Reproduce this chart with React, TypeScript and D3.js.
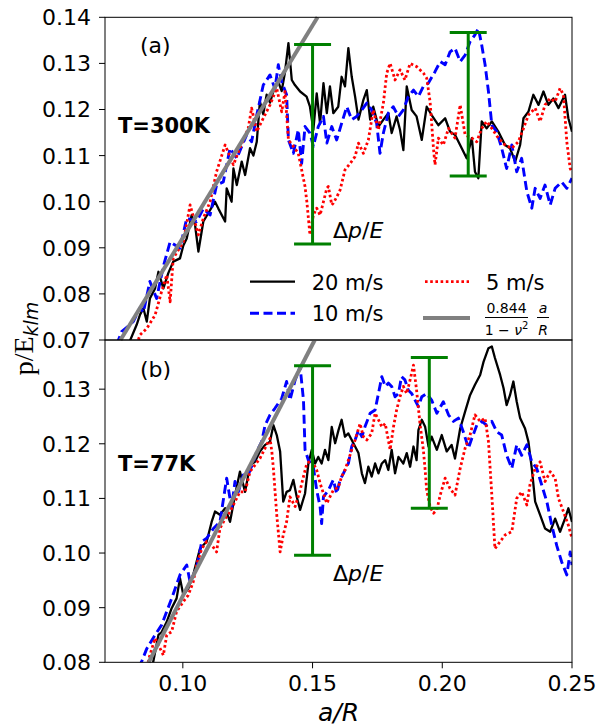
import React from 'react'
import * as d3 from 'd3'

type Pt = [number, number]

// Axis ticks
const xTicks = [0.1, 0.15, 0.2, 0.25]
const yTicks300 = [0.07, 0.08, 0.09, 0.1, 0.11, 0.12, 0.13, 0.14]
const yTicks77 = [0.08, 0.09, 0.1, 0.11, 0.12, 0.13]

// Fit line: 0.844/(1-nu^2) * a/R
const fitCoef = 0.844
const nu = 0.29

// T=300K, [a/R, p/E]
const t300v20: Pt[] = [
  [0.079, 0.069], [0.0822, 0.0733], [0.0835, 0.0755], [0.0848, 0.0769], [0.0861, 0.074], [0.0873, 0.079],
  [0.0893, 0.0812], [0.0906, 0.0848], [0.0925, 0.0812], [0.0944, 0.0845], [0.0963, 0.087], [0.0989, 0.0877],
  [0.1002, 0.0905], [0.1015, 0.092], [0.1034, 0.0971], [0.1047, 0.095], [0.106, 0.0892], [0.1079, 0.0957],
  [0.1098, 0.0975], [0.1124, 0.1], [0.1137, 0.0985], [0.1163, 0.0957], [0.1169, 0.1029], [0.1188, 0.1],
  [0.1195, 0.1072], [0.1208, 0.1036], [0.1227, 0.1087], [0.124, 0.1058], [0.1259, 0.1116], [0.1272, 0.11],
  [0.1285, 0.113], [0.1297, 0.1217], [0.131, 0.119], [0.1323, 0.1232], [0.1336, 0.1215], [0.1349, 0.1239],
  [0.1368, 0.126], [0.1381, 0.124], [0.1394, 0.1282], [0.1407, 0.1344], [0.142, 0.1264], [0.1432, 0.1253],
  [0.1452, 0.1239], [0.1477, 0.1228], [0.149, 0.1206], [0.1503, 0.1156], [0.1516, 0.1235], [0.1529, 0.117],
  [0.1542, 0.1257], [0.1555, 0.1192], [0.1567, 0.125], [0.158, 0.1192], [0.1599, 0.1206], [0.1612, 0.1271],
  [0.1625, 0.125], [0.1638, 0.1333], [0.1651, 0.1271], [0.1664, 0.1228], [0.1677, 0.1178], [0.1696, 0.1221],
  [0.1709, 0.1242], [0.1722, 0.1178], [0.1734, 0.1206], [0.1754, 0.1163], [0.1773, 0.1178], [0.1792, 0.1192],
  [0.1805, 0.1149], [0.1824, 0.1185], [0.1837, 0.1156], [0.185, 0.1112], [0.1863, 0.125], [0.1882, 0.1199],
  [0.1901, 0.1185], [0.1921, 0.1134], [0.194, 0.1206], [0.1959, 0.1188], [0.1985, 0.1166], [0.2011, 0.1181],
  [0.203, 0.1152], [0.2049, 0.1145], [0.2075, 0.1116], [0.2094, 0.1094], [0.2114, 0.1138], [0.2126, 0.1065],
  [0.2139, 0.1051], [0.2152, 0.1174], [0.2171, 0.1159], [0.2191, 0.1174], [0.2216, 0.1152], [0.2242, 0.1123],
  [0.2261, 0.1116], [0.2281, 0.1087], [0.23, 0.1123], [0.2313, 0.1181], [0.2332, 0.1195], [0.2351, 0.1232],
  [0.2371, 0.121], [0.239, 0.1239], [0.2409, 0.121], [0.2428, 0.1224], [0.2448, 0.1203], [0.2473, 0.1232],
  [0.2486, 0.1181], [0.25, 0.1152],
]
const t300v10: Pt[] = [
  [0.0745, 0.069], [0.0764, 0.0718], [0.079, 0.073], [0.0809, 0.074], [0.0835, 0.077], [0.0848, 0.076],
  [0.0873, 0.0827], [0.0899, 0.079], [0.0925, 0.086], [0.0951, 0.0913], [0.0989, 0.0899], [0.1015, 0.0964],
  [0.1053, 0.0957], [0.1079, 0.0985], [0.1105, 0.0971], [0.113, 0.1036], [0.1156, 0.1043], [0.1182, 0.1116],
  [0.1208, 0.1094], [0.1227, 0.112], [0.1246, 0.1145], [0.1265, 0.113], [0.1285, 0.1188], [0.131, 0.1253],
  [0.1336, 0.1275], [0.1355, 0.1245], [0.1368, 0.1297], [0.1381, 0.126], [0.14, 0.1232], [0.1407, 0.1134],
  [0.1426, 0.1105], [0.1445, 0.1156], [0.1458, 0.1083], [0.1471, 0.1163], [0.149, 0.1149], [0.1503, 0.112],
  [0.1522, 0.1163], [0.1542, 0.1185], [0.1555, 0.1127], [0.1574, 0.1163], [0.1593, 0.1134], [0.1612, 0.117],
  [0.1632, 0.1206], [0.1651, 0.1178], [0.167, 0.1185], [0.169, 0.1199], [0.1709, 0.1214], [0.1728, 0.1199],
  [0.1747, 0.117], [0.176, 0.1105], [0.1773, 0.1149], [0.1792, 0.1192], [0.1811, 0.1206], [0.1831, 0.1185],
  [0.185, 0.1199], [0.1869, 0.1228], [0.1889, 0.1242], [0.1908, 0.1228], [0.1927, 0.125], [0.1946, 0.1257],
  [0.1972, 0.1282], [0.1992, 0.1304], [0.2011, 0.1297], [0.203, 0.1325], [0.2049, 0.1333], [0.2069, 0.1304],
  [0.2088, 0.1318], [0.2107, 0.1347], [0.2126, 0.1362], [0.2139, 0.1376], [0.2152, 0.134], [0.2165, 0.1297],
  [0.2178, 0.1239], [0.2191, 0.1166], [0.221, 0.1152], [0.2229, 0.1116], [0.2248, 0.1072], [0.2268, 0.1123],
  [0.2287, 0.1065], [0.2306, 0.1094], [0.2326, 0.1022], [0.2345, 0.0986], [0.2358, 0.1029], [0.2377, 0.1007],
  [0.2396, 0.1036], [0.2416, 0.0993], [0.2435, 0.1029], [0.246, 0.1043], [0.248, 0.1029], [0.25, 0.1051],
]
const t300v5: Pt[] = [
  [0.0822, 0.069], [0.0835, 0.0711], [0.0861, 0.0725], [0.0893, 0.0754], [0.0918, 0.0805], [0.0938, 0.0841],
  [0.0951, 0.0783], [0.0963, 0.0877], [0.1002, 0.0913], [0.1028, 0.0993], [0.106, 0.0928], [0.1079, 0.0964],
  [0.1105, 0.1], [0.113, 0.1065], [0.1163, 0.1123], [0.1195, 0.108], [0.122, 0.1116], [0.1252, 0.1159],
  [0.1265, 0.1203], [0.1285, 0.1152], [0.131, 0.1181], [0.1336, 0.121], [0.1362, 0.1246], [0.1381, 0.1195],
  [0.1394, 0.1239], [0.1407, 0.1134], [0.1426, 0.112], [0.1445, 0.1105], [0.1458, 0.1069], [0.1471, 0.1033],
  [0.1478, 0.1], [0.149, 0.0928], [0.1503, 0.0971], [0.1516, 0.0986], [0.1529, 0.0971], [0.1542, 0.1],
  [0.1555, 0.1029], [0.1561, 0.1033], [0.1574, 0.0993], [0.158, 0.0997], [0.1593, 0.101], [0.1606, 0.1025],
  [0.1625, 0.1069], [0.1645, 0.1083], [0.1664, 0.1098], [0.1677, 0.1127], [0.1696, 0.1105], [0.1715, 0.1134],
  [0.1734, 0.1199], [0.1754, 0.1156], [0.1773, 0.1214], [0.1786, 0.1279], [0.1799, 0.13], [0.1818, 0.1264],
  [0.1837, 0.1286], [0.1856, 0.1264], [0.1876, 0.13], [0.1901, 0.1293], [0.1927, 0.1279], [0.194, 0.1268],
  [0.1953, 0.1217], [0.1966, 0.1116], [0.1972, 0.108], [0.1985, 0.1138], [0.2004, 0.1123], [0.2024, 0.1159],
  [0.2049, 0.1138], [0.2069, 0.121], [0.2088, 0.1145], [0.2114, 0.1138], [0.2133, 0.113], [0.2152, 0.1159],
  [0.2171, 0.1174], [0.2191, 0.1159], [0.2216, 0.1138], [0.2242, 0.1123], [0.2268, 0.1116], [0.2293, 0.113],
  [0.2313, 0.1159], [0.2332, 0.1188], [0.2358, 0.1203], [0.2377, 0.1174], [0.2396, 0.121], [0.2416, 0.1224],
  [0.2435, 0.1217], [0.2454, 0.1246], [0.2467, 0.1232], [0.248, 0.113], [0.2493, 0.1072], [0.25, 0.1065],
]

// T=77K, [a/R, p/E]
const t77v20: Pt[] = [
  [0.0873, 0.079], [0.0886, 0.0801], [0.0906, 0.085], [0.0918, 0.0855], [0.0938, 0.0874], [0.0957, 0.0899],
  [0.0976, 0.0917], [0.0989, 0.0954], [0.1002, 0.0923], [0.1021, 0.0935], [0.104, 0.096], [0.1066, 0.1008],
  [0.1092, 0.1021], [0.1111, 0.1057], [0.1124, 0.1076], [0.1143, 0.107], [0.1163, 0.1082], [0.1182, 0.1057],
  [0.1201, 0.1106], [0.122, 0.1149], [0.124, 0.1112], [0.1259, 0.1161], [0.1278, 0.1167], [0.1297, 0.1186],
  [0.1317, 0.1198], [0.1336, 0.1204], [0.1349, 0.1234], [0.1362, 0.1216], [0.1375, 0.1186], [0.1387, 0.1094],
  [0.14, 0.1112], [0.1413, 0.1115], [0.1426, 0.1134], [0.1439, 0.1103], [0.1452, 0.1079], [0.1471, 0.1109],
  [0.1484, 0.1164], [0.1497, 0.1189], [0.151, 0.1164], [0.1522, 0.1176], [0.1535, 0.1164], [0.1548, 0.1189],
  [0.1561, 0.117], [0.1574, 0.1231], [0.1587, 0.1201], [0.16, 0.1225], [0.1612, 0.1244], [0.1625, 0.1213],
  [0.1638, 0.1219], [0.1651, 0.1207], [0.1664, 0.1195], [0.1677, 0.1183], [0.169, 0.1146], [0.1702, 0.1128],
  [0.1715, 0.1158], [0.1728, 0.114], [0.1741, 0.1164], [0.1754, 0.1146], [0.1767, 0.1164], [0.178, 0.117],
  [0.1792, 0.1152], [0.1805, 0.1189], [0.1818, 0.1146], [0.1831, 0.1176], [0.185, 0.1164], [0.1863, 0.1183],
  [0.1876, 0.1158], [0.1889, 0.1195], [0.1901, 0.117], [0.1908, 0.1225], [0.1921, 0.1244], [0.1934, 0.1231],
  [0.1947, 0.1195], [0.1959, 0.1213], [0.1979, 0.1189], [0.1998, 0.1216], [0.2017, 0.1186], [0.2036, 0.1198],
  [0.2049, 0.1173], [0.2069, 0.1228], [0.2088, 0.1259], [0.2107, 0.1289], [0.2126, 0.1308], [0.2146, 0.1326],
  [0.2159, 0.135], [0.2178, 0.1375], [0.2191, 0.1378], [0.2203, 0.1357], [0.2223, 0.1326], [0.2236, 0.1302],
  [0.2248, 0.1271], [0.2261, 0.1289], [0.2274, 0.1314], [0.2287, 0.1277], [0.23, 0.1247], [0.2319, 0.1228],
  [0.2332, 0.1204], [0.2345, 0.1155], [0.2358, 0.1094], [0.2377, 0.107], [0.2396, 0.1045], [0.2416, 0.1039],
  [0.2435, 0.1063], [0.2454, 0.1039], [0.2473, 0.1063], [0.2486, 0.1082], [0.25, 0.1057],
]
const t77v10: Pt[] = [
  [0.0828, 0.079], [0.0841, 0.0801], [0.0861, 0.0825], [0.0893, 0.085], [0.0918, 0.0868], [0.0938, 0.0893],
  [0.0957, 0.0917], [0.0989, 0.096], [0.1015, 0.0978], [0.1028, 0.0947], [0.1053, 0.0972], [0.1073, 0.1021],
  [0.1092, 0.1027], [0.1118, 0.1045], [0.1143, 0.1057], [0.1169, 0.1137], [0.1188, 0.1082], [0.1201, 0.1131],
  [0.1214, 0.1112], [0.1233, 0.1143], [0.1252, 0.1143], [0.1272, 0.1167], [0.1285, 0.1186], [0.1304, 0.1204],
  [0.1317, 0.1234], [0.1336, 0.1253], [0.1355, 0.1265], [0.1381, 0.1283], [0.14, 0.1314], [0.1413, 0.128],
  [0.1433, 0.1317], [0.1452, 0.1341], [0.1465, 0.128], [0.1471, 0.1189], [0.1484, 0.117], [0.1503, 0.1158],
  [0.1516, 0.1115], [0.1529, 0.1085], [0.1535, 0.1054], [0.1542, 0.1103], [0.1561, 0.1115], [0.158, 0.1134],
  [0.1593, 0.1109], [0.1606, 0.1134], [0.1619, 0.1146], [0.1638, 0.1164], [0.1651, 0.1195], [0.1664, 0.1207],
  [0.1677, 0.1225], [0.169, 0.1213], [0.1702, 0.1231], [0.1722, 0.1256], [0.1741, 0.1262], [0.1754, 0.1292],
  [0.1767, 0.1323], [0.178, 0.1305], [0.1792, 0.1311], [0.1805, 0.1305], [0.1818, 0.1286], [0.1831, 0.1292],
  [0.1843, 0.1323], [0.1856, 0.1317], [0.1869, 0.1298], [0.1882, 0.1292], [0.1895, 0.128], [0.1908, 0.1268],
  [0.1921, 0.1286], [0.194, 0.1292], [0.1959, 0.128], [0.1979, 0.1256], [0.2004, 0.1277], [0.2024, 0.1253],
  [0.2043, 0.1241], [0.2062, 0.1247], [0.2081, 0.1222], [0.2101, 0.1192], [0.2114, 0.121], [0.2133, 0.1234],
  [0.2152, 0.1241], [0.2171, 0.1234], [0.2191, 0.1241], [0.221, 0.1222], [0.2229, 0.1216], [0.2248, 0.1179],
  [0.2268, 0.1155], [0.2287, 0.1198], [0.2306, 0.1179], [0.2326, 0.1198], [0.2345, 0.1167], [0.2364, 0.1155],
  [0.2383, 0.1125], [0.2403, 0.1094], [0.2422, 0.1051], [0.2441, 0.1014], [0.246, 0.0984], [0.248, 0.096],
  [0.2493, 0.1002], [0.25, 0.0978],
]
const t77v5: Pt[] = [
  [0.0861, 0.079], [0.0873, 0.0813], [0.0893, 0.0844], [0.0925, 0.0813], [0.0938, 0.085], [0.0957, 0.0856],
  [0.0976, 0.0893], [0.1002, 0.0911], [0.1021, 0.0923], [0.104, 0.0947], [0.1053, 0.0978], [0.1073, 0.1008],
  [0.1092, 0.1021], [0.1111, 0.1015], [0.113, 0.1002], [0.1143, 0.1045], [0.1163, 0.1063], [0.1182, 0.1076],
  [0.1201, 0.1094], [0.122, 0.1112], [0.124, 0.1112], [0.1259, 0.1149], [0.1278, 0.1161], [0.1297, 0.1173],
  [0.1317, 0.1192], [0.1336, 0.121], [0.1343, 0.1186], [0.1349, 0.1155], [0.1362, 0.107], [0.1375, 0.1002],
  [0.1387, 0.1033], [0.14, 0.1057], [0.1413, 0.1103], [0.1433, 0.1085], [0.1452, 0.1115], [0.1465, 0.114],
  [0.1478, 0.1164], [0.1497, 0.117], [0.1516, 0.1152], [0.1529, 0.1128], [0.1542, 0.1109], [0.1555, 0.1091],
  [0.1567, 0.1103], [0.158, 0.1115], [0.16, 0.1121], [0.1612, 0.114], [0.1625, 0.1152], [0.1638, 0.117],
  [0.1651, 0.1189], [0.1664, 0.1207], [0.1683, 0.1237], [0.1696, 0.1213], [0.1709, 0.1207], [0.1728, 0.1219],
  [0.1741, 0.1256], [0.1754, 0.1244], [0.1767, 0.1231], [0.178, 0.1237], [0.1792, 0.1207], [0.1799, 0.1189],
  [0.1812, 0.1231], [0.1824, 0.1262], [0.1837, 0.1286], [0.185, 0.1305], [0.1863, 0.1292], [0.1876, 0.1317],
  [0.1889, 0.1344], [0.1901, 0.1298], [0.1914, 0.1237], [0.1927, 0.1189], [0.1934, 0.1152], [0.194, 0.1115],
  [0.1953, 0.1085], [0.1966, 0.1073], [0.1979, 0.1079], [0.1992, 0.1106], [0.2011, 0.1137], [0.203, 0.1118],
  [0.2049, 0.1106], [0.2069, 0.1155], [0.2088, 0.1192], [0.2107, 0.1216], [0.2126, 0.1253], [0.2146, 0.1241],
  [0.2165, 0.1247], [0.2178, 0.1204], [0.2191, 0.1106], [0.2203, 0.1008], [0.2223, 0.1021], [0.2242, 0.1033],
  [0.2268, 0.1039], [0.2287, 0.11], [0.2306, 0.1112], [0.2326, 0.1088], [0.2338, 0.1125], [0.2358, 0.1155],
  [0.2377, 0.1167], [0.2396, 0.1131], [0.2416, 0.1149], [0.2435, 0.1137], [0.2448, 0.11], [0.2467, 0.1076],
  [0.2486, 0.1051], [0.25, 0.1027],
]

// Δp/E bars: [a/R, low, high]
const bars300 = [[0.15, 0.0908, 0.1341], [0.21, 0.1056, 0.1367]]
const bars77 = [[0.15, 0.0996, 0.1343], [0.195, 0.1082, 0.1358]]

const font = 'DejaVu Sans'
const x = d3.scaleLinear().domain([0.07, 0.25]).range([105, 572])

const seriesStyle = [
  { stroke: 'black', width: 2.3, dash: undefined },
  { stroke: 'blue', width: 2.9, dash: '9,4.5' },
  { stroke: 'red', width: 2.8, dash: '2.6,2.6' },
]

const Panel = (props: any) => {
  const { id, y, series, bars, ticks, tag, temp, dlabel, showX } = props
  const [y0, y1] = y.range()
  const linea = d3.line<Pt>().x(d => x(d[0])).y(d => y(d[1]))
  // gray fit line spans the panel's own p range
  const k = fitCoef / (1 - nu * nu)
  const fit: Pt[] = y.domain().map((p: number) => [p / k, p])

  return (
    <g>
      <defs>
        <clipPath id={'clip' + id}>
          <rect x={105} y={y1} width={467} height={y0 - y1} />
        </clipPath>
      </defs>
      <g style={{ clipPath: `url(#clip${id})` }}>
        {series.map((s: Pt[], i: number) => (
          <path key={i} d={linea(s) || ''} fill="none" stroke={seriesStyle[i].stroke}
            strokeWidth={seriesStyle[i].width} strokeDasharray={seriesStyle[i].dash} strokeLinejoin="round" />
        ))}
      </g>
      <path d={linea(fit) || ''} stroke="#808080" strokeWidth={4} fill="none" />
      {bars.map((b: number[], i: number) => (
        <g key={i} stroke="green" strokeWidth={3}>
          <line x1={x(b[0])} x2={x(b[0])} y1={y(b[1])} y2={y(b[2])} />
          <line x1={x(b[0]) - 18.5} x2={x(b[0]) + 18.5} y1={y(b[1])} y2={y(b[1])} />
          <line x1={x(b[0]) - 18.5} x2={x(b[0]) + 18.5} y1={y(b[2])} y2={y(b[2])} />
        </g>
      ))}
      <rect x={105} y={y1} width={467} height={y0 - y1} fill="none" stroke="black" strokeWidth={1} />
      {ticks.map((t: number) => (
        <g key={t}>
          <line x1={99} x2={105} y1={y(t)} y2={y(t)} stroke="black" />
          <text x={91} y={y(t)} dy="0.36em" textAnchor="end" fontFamily={font} fontSize={22}>{t.toFixed(2)}</text>
        </g>
      ))}
      {showX && xTicks.map(t => (
        <g key={t}>
          <line x1={x(t)} x2={x(t)} y1={y0} y2={y0 + 6} stroke="black" />
          <text x={x(t)} y={691} textAnchor="middle" fontFamily={font} fontSize={22}>{t.toFixed(2)}</text>
        </g>
      ))}
      <text x={x(0.0835)} y={y(0.1323)} fontFamily={font} fontSize={22}>{tag}</text>
      <text x={x(0.075)} y={y(0.115)} fontFamily={font} fontSize={21} fontWeight="bold">{temp}</text>
      <text x={dlabel[0]} y={dlabel[1]} fontFamily={font} fontSize={22}>
        Δ<tspan fontStyle="italic">p</tspan>/<tspan fontStyle="italic">E</tspan>
      </text>
    </g>
  )
}

const Legend = () => {
  const rows = [
    { x1: 250, x2: 295, y: 281.7, tx: 311.7, ty: 290, label: '20 m/s', s: seriesStyle[0] },
    { x1: 250, x2: 295, y: 313.3, tx: 311.7, ty: 321, label: '10 m/s', s: seriesStyle[1] },
    { x1: 425, x2: 469, y: 281.7, tx: 486, ty: 290, label: '5 m/s', s: seriesStyle[2] },
  ]
  return (
    <g fontFamily={font}>
      {rows.map(r => (
        <g key={r.label}>
          <line x1={r.x1} x2={r.x2} y1={r.y} y2={r.y} stroke={r.s.stroke} strokeWidth={r.s.width} strokeDasharray={r.s.dash} />
          <text x={r.tx} y={r.ty} fontSize={21}>{r.label}</text>
        </g>
      ))}
      <line x1={423} x2={470} y1={318} y2={318} stroke="#808080" strokeWidth={4} />
      <text x={506.5} y={313} fontSize={14} textAnchor="middle">0.844</text>
      <line x1={485} x2={528} y1={317.5} y2={317.5} stroke="black" strokeWidth={1} />
      <text x={506.5} y={335} fontSize={14} textAnchor="middle">1 − <tspan fontStyle="italic">ν</tspan><tspan fontSize={10} dy={-6}>2</tspan></text>
      <text x={543} y={313} fontSize={14} textAnchor="middle" fontStyle="italic">a</text>
      <line x1={537} x2={549} y1={317.5} y2={317.5} stroke="black" strokeWidth={1} />
      <text x={543} y={335} fontSize={14} textAnchor="middle" fontStyle="italic">R</text>
    </g>
  )
}

export default function App() {
  const y300 = d3.scaleLinear().domain([0.07, 0.14]).range([340, 17.3])
  const y77 = d3.scaleLinear().domain([0.08, 0.139]).range([662.3, 340])
  return (
    <svg width={597} height={727} style={{ position: 'absolute', left: 0, top: 0, background: 'white' }}>
      <rect width={597} height={727} fill="white" />
      <Panel id="a" y={y300} series={[t300v20, t300v10, t300v5]} bars={bars300} ticks={yTicks300}
        tag="(a)" temp="T=300K" dlabel={[333, 238]} showX={false} />
      <Panel id="b" y={y77} series={[t77v20, t77v10, t77v5]} bars={bars77} ticks={yTicks77}
        tag="(b)" temp="T=77K" dlabel={[333, 581]} showX={true} />
      <Legend />
      <text x={338.5} y={721} textAnchor="middle" fontFamily={font} fontSize={25} fontStyle="italic">a/R</text>
      <g transform="translate(33,338.5) rotate(-90)">
        <text textAnchor="middle" fontFamily="Liberation Serif" fontSize={28}>
          p/E<tspan fontFamily={font} fontStyle="italic" fontSize={19} dy={5}>klm</tspan>
        </text>
      </g>
    </svg>
  )
}
